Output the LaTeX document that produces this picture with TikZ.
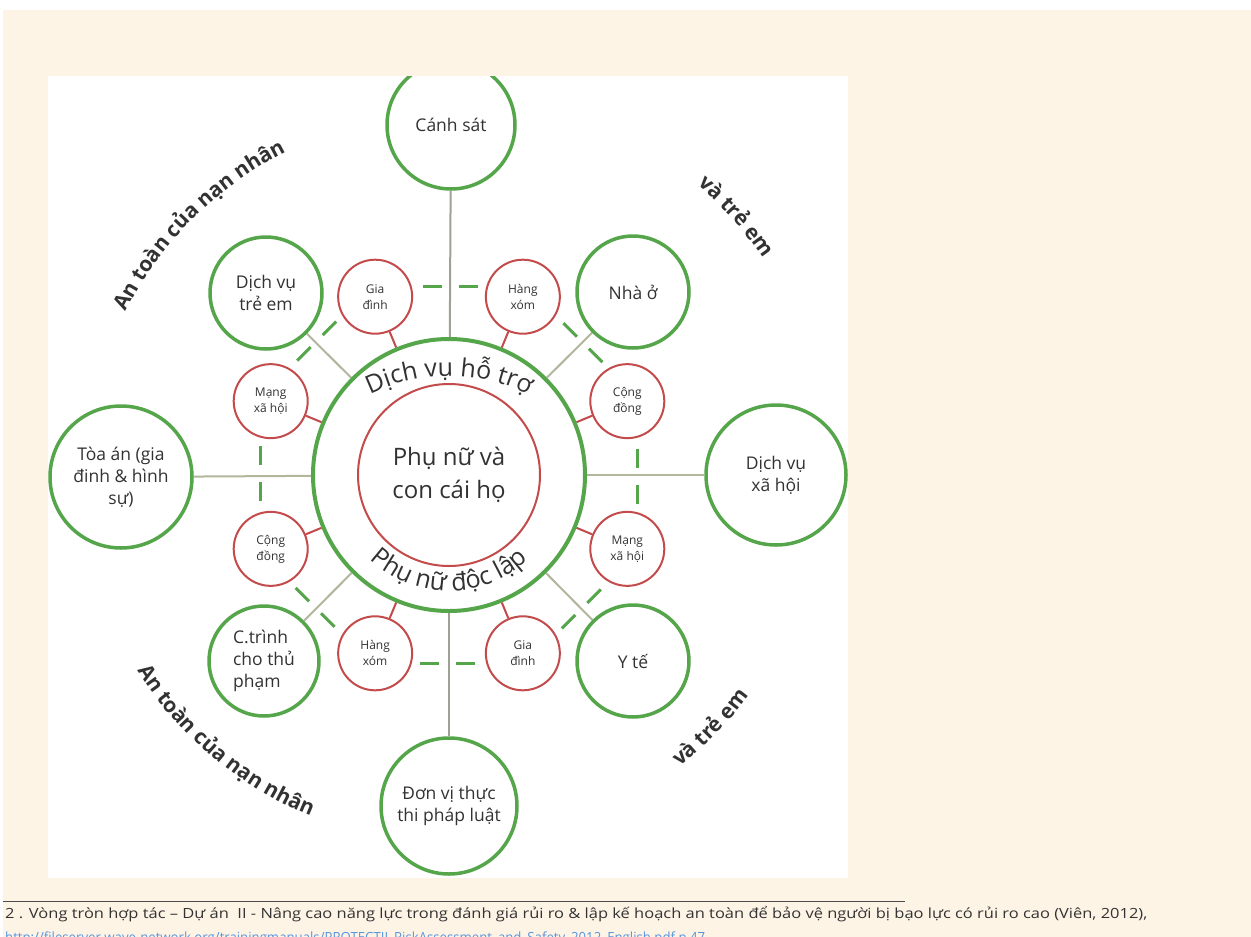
\documentclass[tikz,border=0pt]{standalone}
\usepackage{fontspec}
\usepackage{graphicx}
\setmainfont{Open Sans}
\usetikzlibrary{calc,decorations.text}
\definecolor{cream}{RGB}{254,244,230}
\definecolor{gcol}{RGB}{85,165,75}
\definecolor{rcol}{RGB}{195,75,75}
\definecolor{spk}{RGB}{178,182,155}
\definecolor{spkdark}{RGB}{160,160,148}
\definecolor{txt}{RGB}{50,50,50}
\definecolor{urlc}{RGB}{90,150,220}
\pgfdeclarelayer{back}
\pgfdeclarelayer{bg}
\pgfsetlayers{back,bg,main}
\newcommand\arcfont{\bfseries\fontsize{21}{21}\selectfont\color{txt}}
\newcommand\ringfont{\fontsize{25}{25}\selectfont\color{txt}}
\begin{document}
\begin{tikzpicture}[x=1pt,y=1pt,
  outer/.style={circle,draw=gcol,line width=3.5pt,fill=white,inner sep=0pt,align=center,text=txt,font=\fontsize{17.5}{22}\selectfont},
  redc/.style={circle,draw=rcol,line width=2pt,fill=white,minimum size=74pt,inner sep=0pt,align=center,text=txt,font=\fontsize{12}{16}\selectfont},
  spoke/.style={draw=spk,line width=2pt},
  rline/.style={draw=rcol,line width=2pt},
  gdash/.style={draw=gcol,line width=3pt,dash pattern=on 19pt off 17pt,dash phase=26.5pt},
]
\useasboundingbox (0,0) rectangle (1251,-937);
\begin{pgfonlayer}{back}
\fill[white] (0,0) rectangle (1251,-937);
\fill[cream] (3,-10) rectangle (1251,-937);
\fill[white] (48,-76) rectangle (848,-878);
\end{pgfonlayer}

% hub
\node[circle,draw=gcol,line width=4pt,minimum size=272pt,inner sep=0pt] (hub) at (449,-475) {};
\node[circle,draw=rcol,line width=2pt,minimum size=182pt,inner sep=0pt,align=center,text=txt,font=\fontsize{24}{33}\selectfont] (core) at (449,-475) {Phụ nữ và\\con cái họ};

% outer circles
\node[outer,minimum size=128pt] (canh) at (451,-125) {Cánh sát};
\node[outer,minimum size=112pt] (treem) at (266,-293) {Dịch vụ\\trẻ em};
\node[outer,minimum size=112pt] (nhao) at (633,-292) {Nhà ở};
\node[outer,minimum size=142pt] (toaan) at (121,-477) {Tòa án (gia\\đinh \& hình\\sự)};
\node[outer,minimum size=140pt] (xahoi) at (776,-475) {Dịch vụ\\xã hội};
\node[outer,minimum size=110pt,align=left] (ctrinh) at (264,-661) {C.trình\\cho thủ\\phạm};
\node[outer,minimum size=112pt] (yte) at (633,-661) {Y tế};
\node[outer,minimum size=136pt] (donvi) at (449,-806) {Đơn vị thực\\thi pháp luật};

% red circles
\node[redc] (r0) at ($(hub.center)+(22.5:193)$) {Cộng\\đồng};
\node[redc] (r1) at ($(hub.center)+(67.5:193)$) {Hàng\\xóm};
\node[redc] (r2) at ($(hub.center)+(112.5:193)$) {Gia\\đình};
\node[redc] (r3) at ($(hub.center)+(157.5:193)$) {Mạng\\xã hội};
\node[redc] (r4) at ($(hub.center)+(202.5:193)$) {Cộng\\đồng};
\node[redc] (r5) at ($(hub.center)+(247.5:193)$) {Hàng\\xóm};
\node[redc] (r6) at ($(hub.center)+(292.5:193)$) {Gia\\đình};
\node[redc] (r7) at ($(hub.center)+(337.5:193)$) {Mạng\\xã hội};

\begin{pgfonlayer}{bg}
  \draw[spoke,draw=spkdark] (hub) -- (canh);
  \draw[spoke] (hub) -- (treem);
  \draw[spoke] (hub) -- (nhao);
  \draw[spoke] (hub) -- (toaan);
  \draw[spoke] (hub) -- (xahoi);
  \draw[spoke] (hub) -- (ctrinh);
  \draw[spoke] (hub) -- (yte);
  \draw[spoke,draw=spkdark] (hub) -- (donvi);
  \foreach \r in {r0,r1,r2,r3,r4,r5,r6,r7} { \draw[rline] (\r) -- (hub); }
  \draw[gdash,transform canvas={shift={(90:10)}}] (r2) -- (r1);
  \draw[gdash,transform canvas={shift={(135:10)}}] (r3) -- (r2);
  \draw[gdash,transform canvas={shift={(180:10)}}] (r4) -- (r3);
  \draw[gdash,transform canvas={shift={(225:10)}}] (r5) -- (r4);
  \draw[gdash,transform canvas={shift={(270:10)}}] (r6) -- (r5);
  \draw[gdash,transform canvas={shift={(315:10)}}] (r7) -- (r6);
  \draw[gdash,transform canvas={shift={(0:10)}}] (r0) -- (r7);
  \draw[gdash,transform canvas={shift={(45:10)}}] (r1) -- (r0);
\end{pgfonlayer}

% ring texts
\path[decorate,decoration={text along path,text align=center,text={|\ringfont|Dịch vụ hỗ trợ}}]
  ($(449,-556)+(125:180)$) arc[start angle=125,end angle=55,radius=180];
\path[decorate,decoration={text along path,text align=center,text={|\ringfont|Phụ nữ độc lập}}]
  ($(hub.center)+(220:116)$) arc[start angle=220,end angle=320,radius=116];

% outer arc texts
\path[decorate,decoration={text along path,text align=center,text={|\arcfont|An toàn của nạn nhân}}]
  ($(hub.center)+(168:362)$) arc[start angle=168,end angle=102,radius=362];
\path[decorate,decoration={text along path,text align=center,text={|\arcfont|và trẻ em}}]
  ($(hub.center)+(70:382)$) arc[start angle=70,end angle=14,radius=382];
\path[decorate,decoration={text along path,text align=center,text={|\arcfont|An toàn của nạn nhân}}]
  ($(hub.center)+(197:368)$) arc[start angle=197,end angle=263,radius=368];
\path[decorate,decoration={text along path,text align=center,text={|\arcfont|và trẻ em}}]
  ($(hub.center)+(-72:372)$) arc[start angle=-72,end angle=-16,radius=372];

% cover overflow above panel
\fill[cream] (48,-10) rectangle (848,-76);

% footer
\draw[line width=0.8pt,black!70] (3,-901) -- (905,-901);
\node[anchor=base west,inner sep=0pt,text=black!80] (fn) at (5,-918)
  {\resizebox{1142pt}{\height}{\fontsize{14}{16}\selectfont 2 . Vòng tròn hợp tác – Dự án~ II - Nâng cao năng lực trong đánh giá rủi ro \& lập kế hoạch an toàn để bảo vệ người bị bạo lực có rủi ro cao (Viên, 2012),}};
\node[anchor=base west,inner sep=0pt,text=urlc] (url) at (5,-942)
  {\resizebox{700pt}{\height}{\fontsize{14}{16}\selectfont http://fileserver.wave-network.org/trainingmanuals/PROTECTII\_RiskAssessment\_and\_Safety\_2012\_English.pdf p.47}};
\end{tikzpicture}
\end{document}
